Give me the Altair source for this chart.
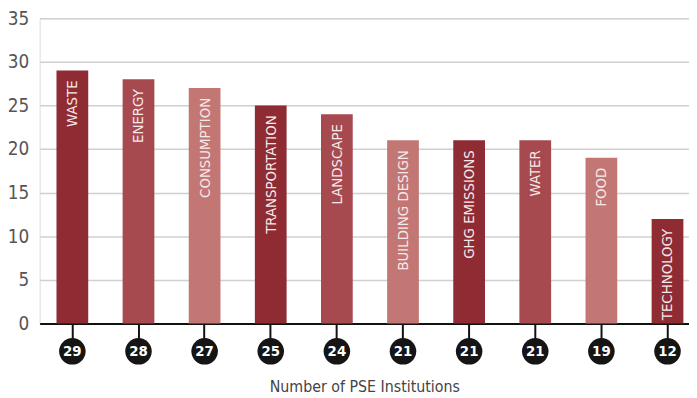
import altair as alt
import pandas as pd

categories = ["WASTE", "ENERGY", "CONSUMPTION", "TRANSPORTATION", "LANDSCAPE",
              "BUILDING DESIGN", "GHG EMISSIONS", "WATER", "FOOD", "TECHNOLOGY"]
counts = [29, 28, 27, 25, 24, 21, 21, 21, 19, 12]
bar_colors = ["#8e2b33", "#a64a4f", "#c27775", "#8e2b33", "#a64a4f",
              "#c27775", "#8e2b33", "#a64a4f", "#c27775", "#8e2b33"]

df = pd.DataFrame({"category": categories, "count": counts})

FONT = "'DejaVu Sans Condensed', 'Roboto Condensed', Roboto, sans-serif"

x_enc = alt.X(
    "category:N",
    sort=categories,
    scale=alt.Scale(paddingInner=0.52, paddingOuter=0.17, align=0.75),
    axis=alt.Axis(
        labels=False,
        ticks=True,
        tickSize=15,
        tickWidth=2,
        tickColor="#111111",
        domain=True,
        domainColor="#111111",
        domainWidth=2,
        grid=False,
        title="Number of PSE Institutions",
        titleFont=FONT,
        titleFontSize=16,
        titleFontWeight="normal",
        titleColor="#444444",
        titlePadding=40,
    ),
)

y_enc = alt.Y(
    "count:Q",
    scale=alt.Scale(domain=[0, 35], nice=False),
    axis=alt.Axis(
        values=[0, 5, 10, 15, 20, 25, 30, 35],
        domain=False,
        ticks=False,
        grid=True,
        gridColor="#d0d0d0",
        gridWidth=1.5,
        labelFont=FONT,
        labelFontSize=19,
        labelColor="#555555",
        labelPadding=11,
        title=None,
    ),
)

bars = alt.Chart(df).mark_bar().encode(
    x=x_enc,
    y=y_enc,
    color=alt.Color("category:N", scale=alt.Scale(domain=categories, range=bar_colors), legend=None),
)

bar_labels = alt.Chart(df).mark_text(
    angle=270, align="right", baseline="middle", dx=-10,
    font=FONT, fontSize=15, color="#f6e8e8",
).encode(
    x=alt.X("category:N", sort=categories),
    y=alt.Y("count:Q"),
    text="category:N",
)

circles = alt.Chart(df).mark_point(
    shape="circle", filled=True, size=720, color="#151515", opacity=1,
).encode(
    x=alt.X("category:N", sort=categories),
    y=alt.value(337),
)

numbers = alt.Chart(df).mark_text(
    font=FONT, fontSize=15, fontWeight="bold", color="white",
    baseline="middle", align="center",
).encode(
    x=alt.X("category:N", sort=categories),
    y=alt.value(337),
    text="count:Q",
)

chart = alt.layer(bars, bar_labels, circles, numbers).properties(
    width=657,
    height=309,
    autosize=alt.AutoSizeParams(type="none"),
    padding={"left": 32, "top": 8, "right": 0, "bottom": 74},
).configure_view(stroke=None).configure(background="white")

chart.save("out.html", embed_options={"renderer": "svg", "actions": False})
